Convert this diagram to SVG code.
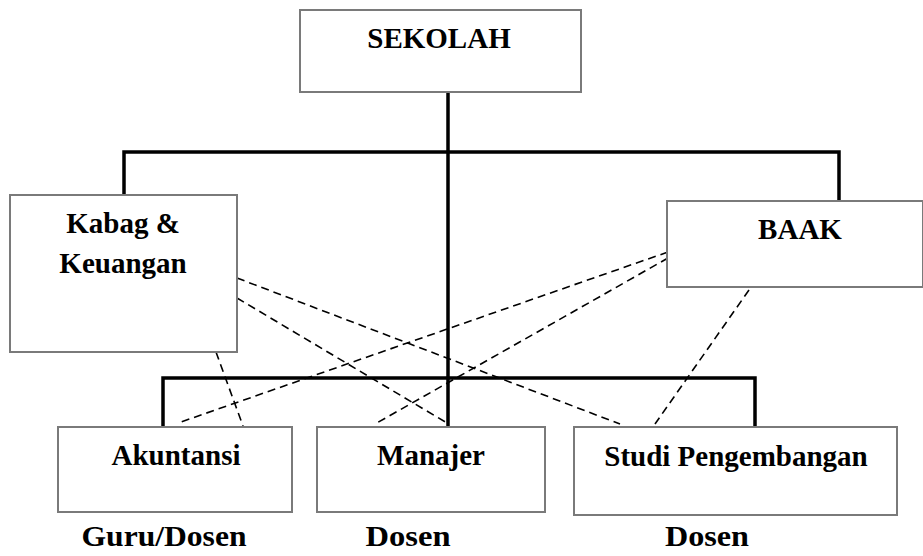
<svg xmlns="http://www.w3.org/2000/svg" width="923" height="556" viewBox="0 0 923 556">
<style>
.box{fill:#fff;stroke:#7a7a7a;stroke-width:2}
.t{font-family:"Liberation Serif","Times New Roman",serif;font-weight:bold;font-size:29px;fill:#000;text-anchor:middle}
.lbl{font-family:"Liberation Serif","Times New Roman",serif;font-weight:bold;font-size:30px;fill:#000;text-anchor:middle}
.solid{stroke:#000;stroke-width:3.5;fill:none;stroke-linecap:square}
.dash{stroke:#000;stroke-width:1.6;fill:none;stroke-dasharray:8 5}
</style>
<rect width="923" height="556" fill="#fff"/>
<g id="connectors">
<path class="solid" d="M448 92V426M124 195V152H839V201M163 427V378H755V427"/>
<line class="dash" x1="237" y1="278" x2="620" y2="424"/>
<line class="dash" x1="237" y1="298" x2="447" y2="423"/>
<line class="dash" x1="216" y1="352" x2="243" y2="426"/>
<line class="dash" x1="668" y1="252" x2="178" y2="423"/>
<line class="dash" x1="668" y1="258" x2="375" y2="424"/>
<line class="dash" x1="749" y1="290" x2="655" y2="424"/>
</g>
<g id="sekolah"><rect class="box" x="300" y="10" width="281" height="82"/><text class="t" x="439" y="48">SEKOLAH</text></g>
<g id="kabag"><rect class="box" x="10" y="195" width="227" height="157"/><text class="t" x="123" y="233">Kabag &amp;</text><text class="t" x="123" y="273">Keuangan</text></g>
<g id="baak"><rect class="box" x="667" y="201" width="256" height="86"/><text class="t" x="800" y="239">BAAK</text></g>
<g id="akuntansi"><rect class="box" x="58" y="427" width="234" height="85"/><text class="t" x="176" y="465">Akuntansi</text></g>
<g id="manajer"><rect class="box" x="317" y="427" width="228" height="85"/><text class="t" x="431" y="465">Manajer</text></g>
<g id="studi"><rect class="box" x="574" y="427" width="323" height="88"/><text class="t" x="736" y="466">Studi Pengembangan</text></g>
<g id="labels">
<text class="lbl" x="164" y="546" textLength="165" lengthAdjust="spacingAndGlyphs">Guru/Dosen</text>
<text class="lbl" x="408" y="546" textLength="85" lengthAdjust="spacingAndGlyphs">Dosen</text>
<text class="lbl" x="707" y="546" textLength="84" lengthAdjust="spacingAndGlyphs">Dosen</text>
</g>
</svg>
